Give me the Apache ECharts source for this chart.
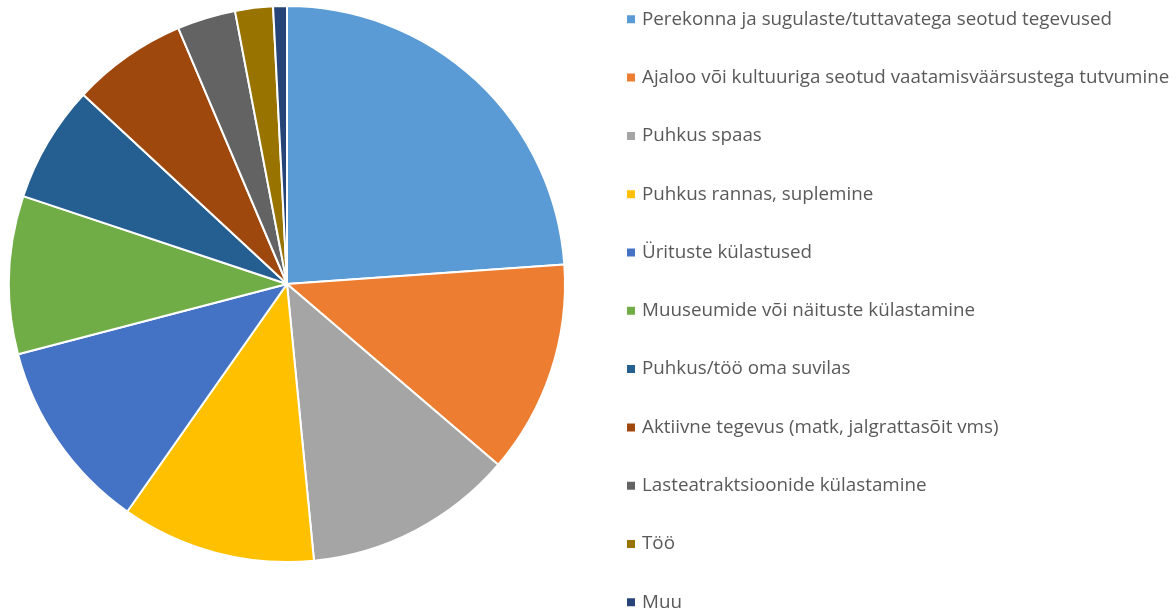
<!DOCTYPE html>
<html><head><meta charset="utf-8">
<script src="https://cdn.jsdelivr.net/npm/echarts@6/dist/echarts.min.js"></script>
<style>html,body{margin:0;padding:0;background:#fff}#c{width:1176px;height:612px}</style>
</head><body><div id="c"></div>
<script>
const categories = [
  "Perekonna ja sugulaste/tuttavatega seotud tegevused",
  "Ajaloo või kultuuriga seotud vaatamisväärsustega tutvumine",
  "Puhkus spaas",
  "Puhkus rannas, suplemine",
  "Ürituste külastused",
  "Muuseumide või näituste külastamine",
  "Puhkus/töö oma suvilas",
  "Aktiivne tegevus (matk, jalgrattasõit vms)",
  "Lasteatraktsioonide külastamine",
  "Töö",
  "Muu"
];
const values = [23.9, 12.4, 12.2, 11.3, 11.2, 9.2, 6.8, 6.7, 3.4, 2.2, 0.8];
const colors = ["#5B9BD5","#ED7D31","#A5A5A5","#FFC000","#4472C4","#70AD47","#255E91","#9E480E","#636363","#997300","#264478"];

const chart = echarts.init(document.getElementById('c'), null, {renderer:'canvas'});
chart.setOption({
  animation: false,
  color: colors,
  legend: {
    orient: 'vertical',
    left: 625,
    top: 9.8,
    height: 700,
    padding: 0,
    itemWidth: 10,
    itemHeight: 10,
    itemGap: 39.3,
    icon: 'rect',
    textStyle: {fontFamily: 'Open Sans', fontSize: 18.8, color: '#595959', lineHeight: 18, padding: [0,0,0,1]},
    data: categories
  },
  series: [{
    type: 'pie',
    center: [287, 284],
    radius: [0, 278],
    startAngle: 90,
    clockwise: true,
    label: {show: false},
    labelLine: {show: false},
    itemStyle: {borderColor: '#fff', borderWidth: 2},
    data: categories.map((n, i) => ({name: n, value: values[i]}))
  }]
});
</script></body></html>
